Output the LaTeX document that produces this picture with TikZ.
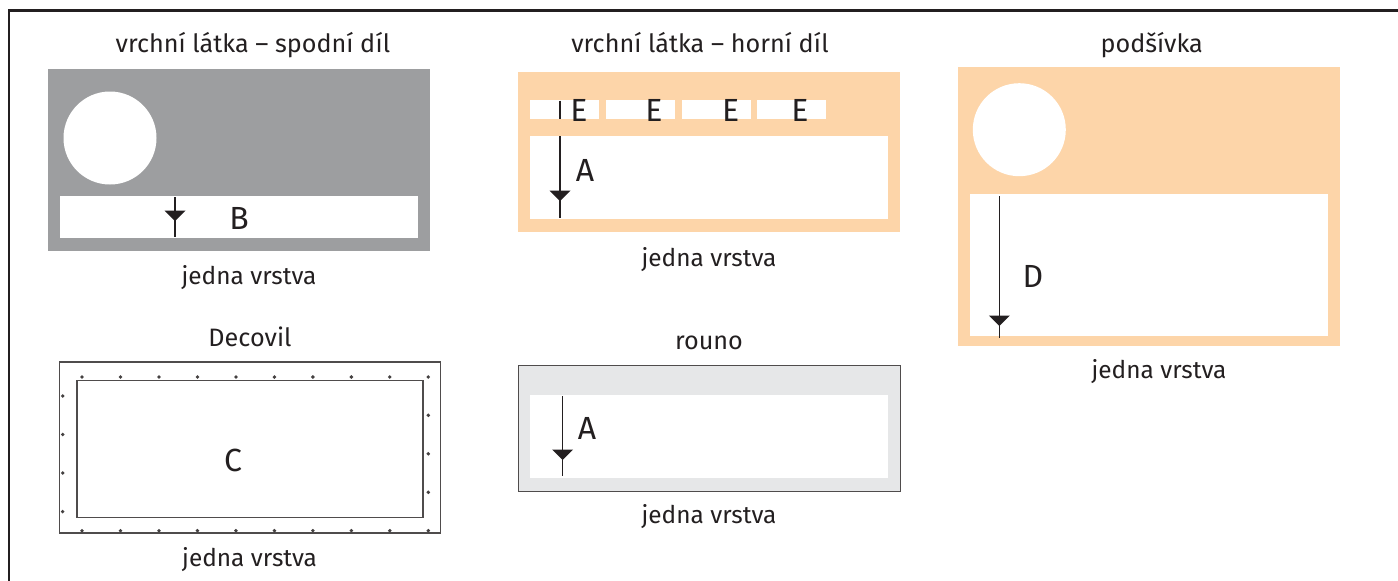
\documentclass[tikz,border=0pt]{standalone}
\usepackage{fontspec}
\setmainfont{Fira Sans}
\definecolor{ink}{HTML}{231F20}
\definecolor{midgrey}{HTML}{9D9EA0}
\definecolor{peach}{HTML}{FDD5A9}
\definecolor{pale}{HTML}{E6E7E8}
\tikzset{
  caption/.style={anchor=base,inner sep=0pt,font=\fontsize{25.2}{28}\selectfont,text=ink},
  layer/.style={anchor=base,inner sep=0pt,font=\fontsize{24.4}{28}\selectfont,text=ink},
  letter/.style={anchor=center,inner sep=0pt,font=\fontsize{32}{36}\selectfont,text=ink},
  grain/.style={draw=ink,line width=1.1pt},
  tip/.style={fill=ink,draw=none},
  hole/.style={fill=white,draw=none},
  spot/.style={circle,fill=ink!85,draw=none,minimum size=3.8pt,inner sep=0pt}
}
\newcommand{\grainhead}[3]{\fill[tip] (#1-10.5,#2) -- (#1+10.5,#2) -- (#1,#3) -- cycle;}
\begin{document}
\begin{tikzpicture}[x=1pt,y=-1pt]
\useasboundingbox (0,0) rectangle (1398,581);
\draw[ink,line width=2.4pt] (9,590) -- (9,10.5) -- (1405,10.5);
% panel 1
\fill[midgrey] (48,69) rectangle (430,251);
\fill[hole] (110,138) circle (46.5);
\fill[hole] (60,196) rectangle (418,238);
\coordinate (ba) at (175,197); \coordinate (bb) at (175,237);
\draw[grain] (ba) -- (bb);
\grainhead{175}{210.5}{221}
\node[caption] (t1) at (253,52) {vrchní látka – spodní díl};
\node[letter] (lB) at (239,218) {B};
\node[layer] (j1) at (249,284.5) {jedna vrstva};
% Decovil
\draw[ink!80,line width=1.1pt] (59.5,362) rectangle (440.5,533);
\draw[ink!80,line width=1.3pt] (77,380.7) rectangle (423,517.7);
\foreach \i in {0,...,9}{
  \node[spot] at (82+38.48*\i,377) {};
  \node[spot] at (82+38.48*\i,530.7) {};
}
\foreach \yy in {396,434.5,473,511.6} \node[spot] at (62.7,\yy) {};
\foreach \yy in {415.3,453.8,492.3} \node[spot] at (428.3,\yy) {};
\node[caption] (t2) at (250,346) {Decovil};
\node[letter] (lC) at (233,460) {C};
\node[layer] (j2) at (249.6,566) {jedna vrstva};
% panel top middle
\fill[peach] (518,72) rectangle (900,231.7);
\fill[hole] (530,136) rectangle (888,219);
\foreach \xa/\xb in {530/599,606/675,682/751,757/826} \fill[hole] (\xa,100) rectangle (\xb,119);
\coordinate (aa) at (560,100.5); \coordinate (ab) at (560,119);
\coordinate (ac) at (560,136); \coordinate (ad) at (560,217.5);
\draw[grain] (aa) -- (ab) (ac) -- (ad);
\grainhead{560}{190.7}{201}
\node[letter] at (579,110) {E};
\node[letter] at (654,110) {E};
\node[letter] at (730.7,110) {E};
\node[letter] at (800,110) {E};
\node[letter] (lA) at (585,170) {A};
\node[caption] (t3) at (700,52) {vrchní látka – horní díl};
\node[layer] (j3) at (709,266) {jedna vrstva};
% rouno
\fill[pale] (518.5,365) rectangle (900,491.5);
\fill[hole] (530,395) rectangle (888,478);
\draw[ink!80,line width=1pt] (518.5,365) rectangle (900,491.5);
\coordinate (ra) at (562.5,396); \coordinate (rb) at (562.5,476);
\draw[grain] (ra) -- (rb);
\grainhead{562.5}{449.5}{460}
\node[letter] (lA2) at (587,428.5) {A};
\node[caption] (t4) at (709,349) {rouno};
\node[layer] (j4) at (709,523.7) {jedna vrstva};
% podsivka
\fill[peach] (958,67) rectangle (1340,345.7);
\fill[hole] (1019.3,129.7) circle (46.5);
\fill[hole] (970,194) rectangle (1328,335.7);
\coordinate (da) at (999.3,196); \coordinate (db) at (999.3,337.5);
\draw[grain] (da) -- (db);
\grainhead{999.3}{315.5}{326}
\node[letter] (lD) at (1033,276) {D};
\node[caption] (t5) at (1151.7,52) {podšívka};
\node[layer] (j5) at (1159,378) {jedna vrstva};
\end{tikzpicture}
\end{document}
